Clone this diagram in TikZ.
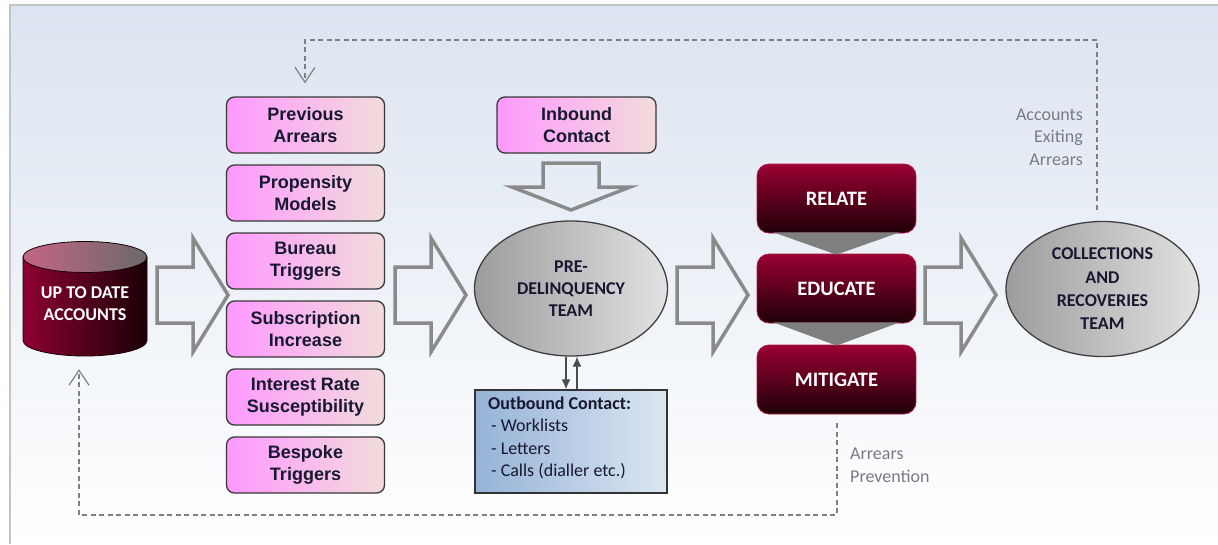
\documentclass[tikz,border=0pt]{standalone}
\usepackage{fontspec}
\setmainfont{Carlito}
\newfontfamily\arialf{Liberation Sans}
\usetikzlibrary{arrows.meta,shapes.geometric}
\definecolor{bgtop}{HTML}{DBE4F0}
\definecolor{framecol}{HTML}{C4C4C4}
\definecolor{pinkL}{HTML}{FF99FF}
\definecolor{pinkR}{HTML}{F2DCDB}
\definecolor{boxtext}{HTML}{181830}
\definecolor{redT}{HTML}{9A0033}
\definecolor{redB}{HTML}{1E0008}
\definecolor{redEdge}{HTML}{B01848}
\definecolor{greyL}{HTML}{9C9C9C}
\definecolor{greyR}{HTML}{E2E2E2}
\definecolor{arrowgrey}{HTML}{8A8A8A}
\definecolor{dashgrey}{HTML}{7F7F7F}
\definecolor{labelgrey}{HTML}{7A7A84}
\definecolor{blueL}{HTML}{95B3D7}
\definecolor{blueR}{HTML}{DCE6F2}
\definecolor{cylL}{HTML}{8E0032}
\definecolor{cylR}{HTML}{1A0006}
\definecolor{cylTopL}{HTML}{C46484}
\definecolor{cylTopR}{HTML}{6A6A6A}
\definecolor{triGrey}{HTML}{7F7F7F}
\tikzset{
 trig/.style={draw=black!78, line width=1.3pt, rounded corners=8pt, left color=pinkL, right color=pinkR, minimum width=158pt, minimum height=56pt, inner sep=0pt, align=center, text=boxtext, font=\arialf\bfseries\fontsize{18}{22}\selectfont},
 stage/.style={draw=redEdge, line width=0.8pt, rounded corners=12pt, top color=redT, bottom color=redB, minimum width=159pt, minimum height=69pt, inner sep=0pt, text=white, font=\bfseries\fontsize{20.5}{24}\selectfont},
 team/.style={ellipse, draw=black!75, line width=1.3pt, left color=greyL, right color=greyR, minimum width=193pt, minimum height=135pt, inner sep=0pt, align=center, text=boxtext, font=\bfseries\fontsize{18}{22}\selectfont},
 bigarrow/.style={draw=arrowgrey, line width=3.5pt, line join=miter},
 fb/.style={draw=dashgrey, line width=1.2pt, dash pattern=on 5pt off 3.5pt},
 fbtip/.style={-{Straight Barb[length=15pt,width=20pt]}},
 link/.style={draw=black!70, line width=1.3pt, -{Latex[length=10pt,width=9pt]}},
 lbl/.style={text=labelgrey, font=\fontsize{18}{22.7}\selectfont, inner sep=0pt},
 rarrow/.pic={\draw[bigarrow] (0,-28)--(36,-28)--(36,-57)--(71,0)--(36,57)--(36,28)--(0,28)--cycle;},
 darrow/.pic={\draw[bigarrow] (-28,0)--(28,0)--(28,24)--(59,24)--(0,47)--(-59,24)--(-28,24)--cycle;},
}
\begin{document}
\begin{tikzpicture}[x=1pt,y=-1pt]
\useasboundingbox (0,0) rectangle (1218,544);
% background and frame
\fill[top color=bgtop, bottom color=white] (10,5) rectangle (1218,544);
\draw[framecol, line width=2pt] (10,544) -- (10,5) -- (1218,5);

% cylinder
\node[minimum width=124pt, minimum height=115pt, inner sep=0pt] (cyl) at (85,298.5) {};
\draw[draw=cylR, line width=0.8pt, left color=cylL, right color=cylR] (23,257) -- (23,340.5) arc[start angle=180,end angle=360,x radius=62pt,y radius=15.5pt] -- (147,257) -- cycle;
\draw[draw=cylR, line width=0.8pt, left color=cylTopL, right color=cylTopR] (85,257) ellipse [x radius=62pt, y radius=15.5pt];
\node[text=white, font=\bfseries\fontsize{18}{22}\selectfont, align=center] (acctxt) at (85,304) {UP TO DATE\\ACCOUNTS};

% trigger boxes
\node[trig] (prev) at (305.5,125) {Previous\\Arrears};
\node[trig] (prop) at (305.5,193) {Propensity\\Models};
\node[trig] (bur)  at (305.5,261) {Bureau\\Triggers};
\node[trig] (sub)  at (305.5,329) {Subscription\\Increase};
\node[trig] (irs)  at (305.5,397) {Interest Rate\\Susceptibility};
\node[trig] (besp) at (305.5,465) {Bespoke\\Triggers};

\node[trig, minimum width=159pt] (inb) at (576.5,125) {Inbound\\Contact};

% teams
\node[team] (pre) at (571,288.5) {PRE-\\DELINQUENCY\\TEAM};
\node[team, font=\bfseries\fontsize{18}{23.3}\selectfont] (coll) at (1102.5,289) {COLLECTIONS\\AND\\RECOVERIES\\TEAM};

% outbound
\node[draw=black!80, line width=1.3pt, left color=blueL, right color=blueR, minimum width=192pt, minimum height=103pt, inner sep=0pt] (out) at (571,441.5) {};
\node[anchor=north west, align=left, inner sep=0pt, text=boxtext, font=\fontsize{18}{22.5}\selectfont] (outtxt) at (488,396.5) {\textbf{Outbound Contact:}\\\hspace{3pt}- Worklists\\\hspace{3pt}- Letters\\\hspace{3pt}- Calls (dialler etc.)};

% stages
\node[stage] (rel) at (836.5,198.5) {RELATE};
\node[stage] (edu) at (836.5,288.5) {EDUCATE};
\node[stage] (mit) at (836.5,379.5) {MITIGATE};
\fill[triGrey] ([xshift=-63pt,yshift=1pt]rel.south) -- ([xshift=63pt,yshift=1pt]rel.south) -- ([yshift=-1pt]edu.north) -- cycle;
\fill[triGrey] ([xshift=-63pt,yshift=1pt]edu.south) -- ([xshift=63pt,yshift=1pt]edu.south) -- ([yshift=-1pt]mit.north) -- cycle;

% big arrows
\pic at (157,295) {rarrow};
\pic at (395,295) {rarrow};
\pic at (677,295) {rarrow};
\pic at (925,295) {rarrow};
\pic at (571,163) {darrow};

% links pre <-> outbound
\draw[link] ([xshift=-5pt]pre.south) -- ([xshift=-5pt]out.north);
\draw[link] ([xshift=6pt]out.north) -- ([xshift=6pt]pre.south);

% feedback loops
\draw[fb, fbtip] ([xshift=-5.5pt,yshift=11pt]coll.north) |- (305,40) -- ([xshift=-0.5pt,yshift=13pt]prev.north);
\draw[fb, fbtip] ([xshift=0.5pt,yshift=-9pt]mit.south) |- (79,515) -- ([xshift=-6pt,yshift=-13pt]cyl.south);

% labels
\node[lbl, anchor=east, align=right] (exitlbl) at (1083,137) {Accounts\\Exiting\\Arrears};
\node[lbl, anchor=west, align=left] (prevlbl) at (850,465) {Arrears\\Prevention};
\end{tikzpicture}
\end{document}
